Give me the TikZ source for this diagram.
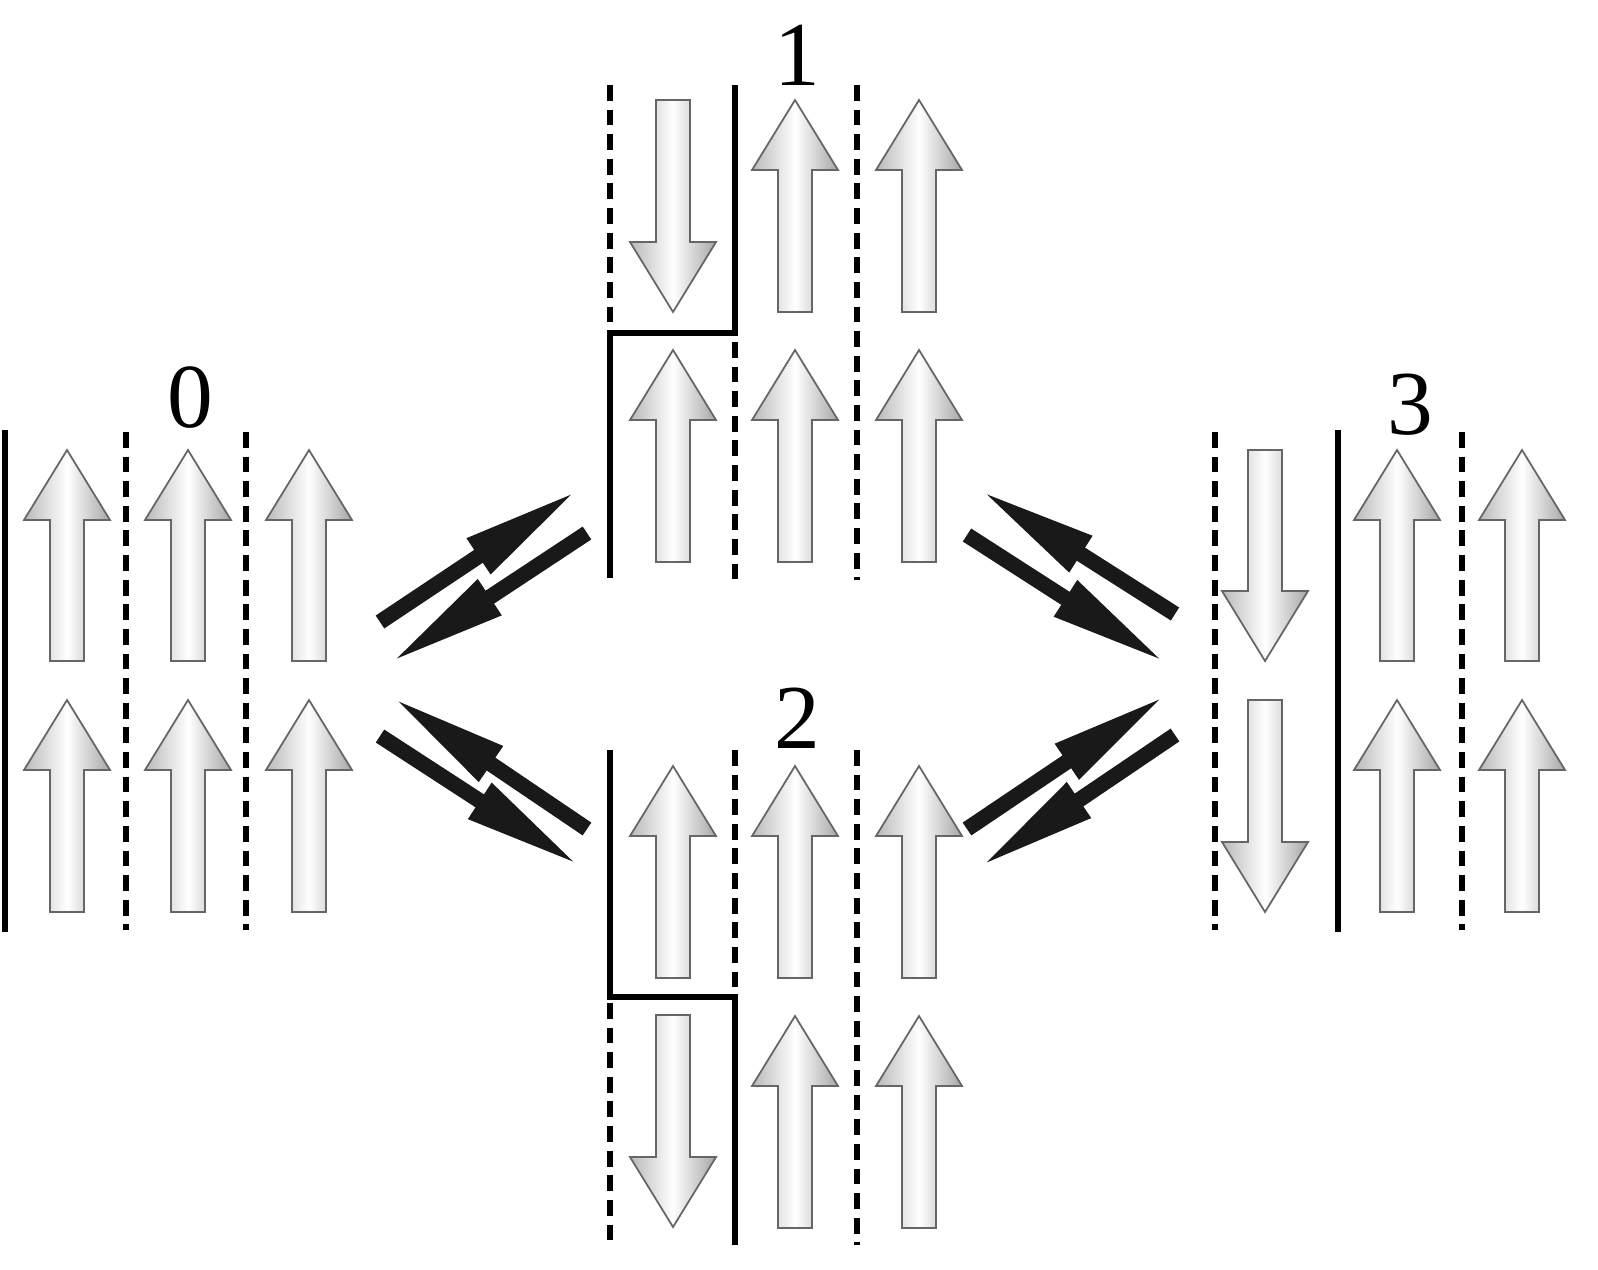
\documentclass[tikz,border=0pt]{standalone}
\usepackage{fontspec}
\setmainfont{Liberation Serif}
\usetikzlibrary{arrows.meta}
\tikzset{%
	spin/.style = {draw=gray!80!black, line width=0.5pt, shading=axis,
		left color=gray!55, right color=gray!70, middle color=white},
	wall/.style = {line width=1.5pt},
	cut/.style  = {line width=1.5pt, dash pattern=on 4.5pt off 2.5pt},
	eq/.style   = {line width=4.4pt, black!90, -{Triangle[length=34pt,width=11pt]}},
	lbl/.style  = {font=\fontsize{26}{30}\selectfont}
}
% spin arrow: x, tail y, tip y
\newcommand{\spinarrow}[3]{%
	\pgfmathsetmacro\hb{#3+70*sign(#2-#3)}
	\path[spin] (#1-17,#2) -- (#1-17,\hb) -- (#1-43,\hb) -- (#1,#3)
		-- (#1+43,\hb) -- (#1+17,\hb) -- (#1+17,#2) -- cycle;
}
\begin{document}
\begin{tikzpicture}[x=0.01cm, y=-0.01cm]
	\useasboundingbox (0,0) rectangle (1598,1269);
	
	% state 0
	\node[lbl] (l0) at (190,398) {0};
	\draw[wall] (5,430) -- (5,932);
	\foreach \x in {126,246} \draw[cut] (\x,432) -- (\x,930);
	\foreach \x in {67,188,309} {
		\spinarrow{\x}{661}{450}
		\spinarrow{\x}{912}{700}
	}
	
	% state 1
	\node[lbl] (l1) at (797,55) {1};
	\draw[cut] (610,85) -- (610,325);
	\draw[wall] (735,85) -- (735,333) -- (610,333) -- (610,578);
	\draw[cut] (735,342) -- (735,580);
	\draw[cut] (857,85) -- (857,580);
	\spinarrow{673}{100}{312}
	\foreach \x in {795,919} {\spinarrow{\x}{312}{100}}
	\foreach \x in {673,795,919} {\spinarrow{\x}{562}{350}}
	
	% state 2
	\node[lbl] (l2) at (797,718) {2};
	\draw[wall] (610,750) -- (610,997) -- (735,997) -- (735,1245);
	\draw[cut] (610,1003) -- (610,1245);
	\draw[cut] (735,750) -- (735,992);
	\draw[cut] (857,750) -- (857,1245);
	\foreach \x in {673,795,919} {\spinarrow{\x}{978}{766}}
	\spinarrow{673}{1015}{1227}
	\foreach \x in {795,919} {\spinarrow{\x}{1228}{1016}}
	
	% state 3
	\node[lbl] (l3) at (1410,405) {3};
	\draw[cut] (1215,432) -- (1215,930);
	\draw[wall] (1338,430) -- (1338,932);
	\draw[cut] (1462,432) -- (1462,930);
	\spinarrow{1265}{450}{661}
	\spinarrow{1265}{700}{912}
	\foreach \x in {1397,1522} {
		\spinarrow{\x}{661}{450}
		\spinarrow{\x}{912}{700}
	}
	
	% equilibria
	\coordinate (a1) at (380,622); \coordinate (b1) at (578,490);
	\coordinate (a2) at (587,533); \coordinate (b2) at (390,663);
	\coordinate (a3) at (380,736); \coordinate (b3) at (580,866);
	\coordinate (a4) at (587,829); \coordinate (b4) at (392,697);
	\coordinate (a5) at (967,535); \coordinate (b5) at (1166,663);
	\coordinate (a6) at (1175,614); \coordinate (b6) at (980,490);
	\coordinate (a7) at (967,829); \coordinate (b7) at (1166,695);
	\coordinate (a8) at (1175,735); \coordinate (b8) at (980,867);
	\foreach \i in {1,...,8} \draw[eq] (a\i) -- (b\i);
\end{tikzpicture}
\end{document}
